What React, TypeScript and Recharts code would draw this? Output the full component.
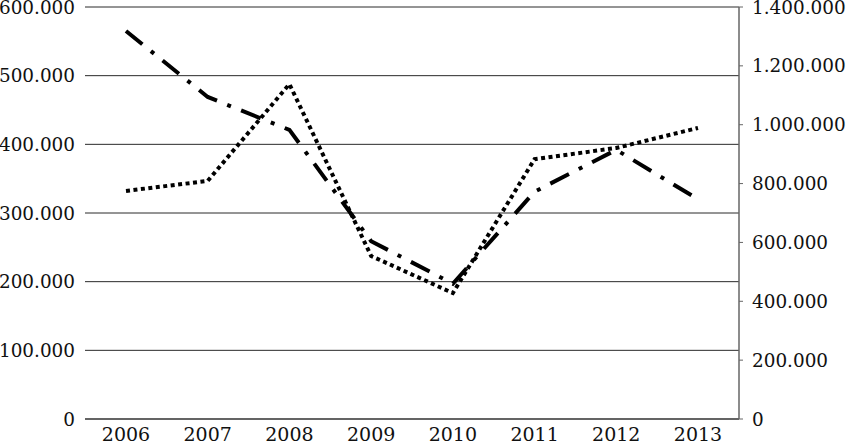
import { CartesianGrid, Line, LineChart, XAxis, YAxis } from "recharts";

const YEARS = ["2006", "2007", "2008", "2009", "2010", "2011", "2012", "2013"];
const DASH_DOT_VALUES = [565000, 469000, 421000, 259000, 197000, 331000, 392000, 320000];
const DOTTED_VALUES = [775000, 809000, 1138000, 554000, 428000, 883000, 921000, 989000];
const LEFT_TICKS = [0, 100000, 200000, 300000, 400000, 500000, 600000];
const RIGHT_TICKS = [0, 200000, 400000, 600000, 800000, 1000000, 1200000, 1400000];

const data = YEARS.map((year, i) => ({
  year,
  a: DASH_DOT_VALUES[i],
  b: DOTTED_VALUES[i],
}));

const FONT = "DejaVu Serif, serif";
const TICK = { fontSize: 19, fill: "#111", fontFamily: FONT };
const Y_TICK = { ...TICK, fontSize: 18.4 };

const fmt = (v: number) =>
  v === 0 ? "0" : String(v).replace(/\B(?=(\d{3})+(?!\d))/g, ".");

export default function App() {
  return (
    <div style={{ position: "absolute", left: 0, top: 0, background: "#fff" }}>
      <LineChart
        width={850}
        height={447}
        data={data}
        margin={{ top: 7, right: 0, bottom: 0, left: 0 }}
      >
        <CartesianGrid
          yAxisId="left"
          vertical={false}
          stroke="#2a2a2a"
          strokeWidth={1}
        />
        <XAxis
          dataKey="year"
          padding={{ left: 41, right: 41 }}
          height={28}
          tick={TICK}
          tickLine={false}
          tickSize={0}
          tickMargin={9}
          axisLine={{ stroke: "#555", strokeWidth: 1.5 }}
        />
        <YAxis
          yAxisId="left"
          domain={[0, 600000]}
          ticks={LEFT_TICKS}
          width={85}
          tick={Y_TICK}
          tickFormatter={fmt}
          axisLine={false}
          tickLine={false}
          tickMargin={4}
          interval={0}
        />
        <YAxis
          yAxisId="right"
          orientation="right"
          domain={[0, 1400000]}
          ticks={RIGHT_TICKS}
          width={111}
          tick={{ ...Y_TICK, textAnchor: "start" }}
          tickFormatter={fmt}
          axisLine={{ stroke: "#666", strokeWidth: 1.5 }}
          tickLine={{ stroke: "#666" }}
          tickSize={4}
          tickMargin={9}
          interval={0}
        />
        <Line
          yAxisId="left"
          dataKey="a"
          type="linear"
          stroke="#000"
          strokeWidth={4}
          strokeDasharray="21 11 4 11"
          dot={false}
          isAnimationActive={false}
        />
        <Line
          yAxisId="right"
          dataKey="b"
          type="linear"
          stroke="#000"
          strokeWidth={4}
          strokeDasharray="4 3.5"
          dot={false}
          isAnimationActive={false}
        />
      </LineChart>
    </div>
  );
}
